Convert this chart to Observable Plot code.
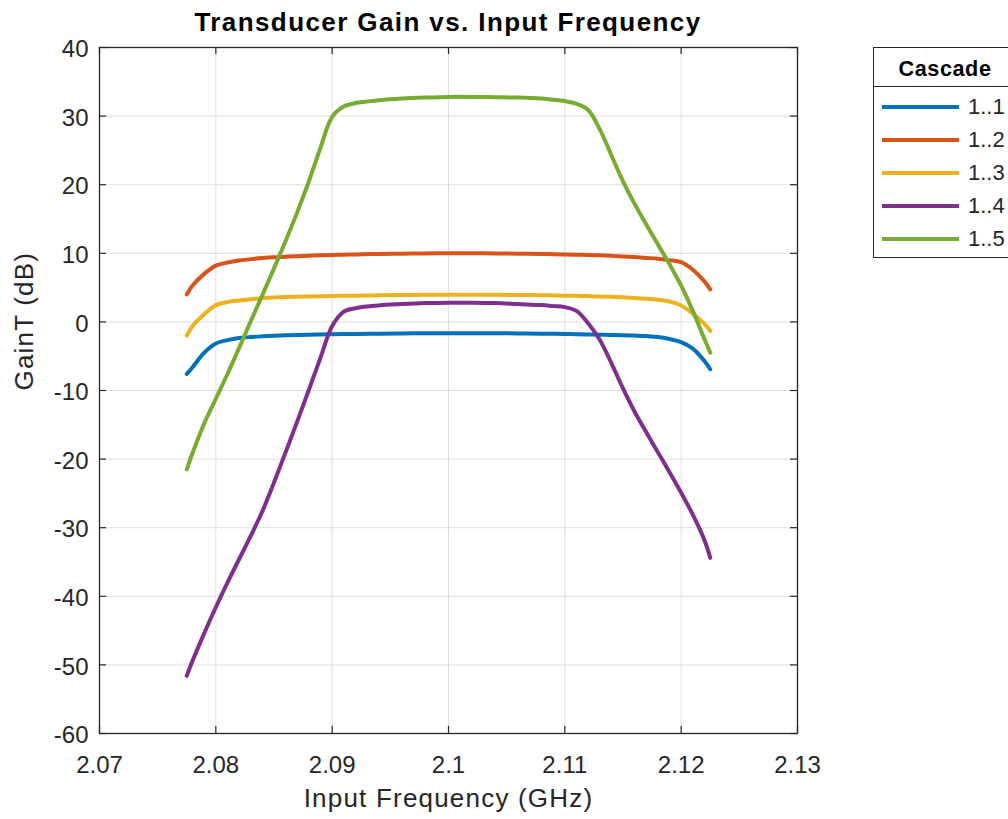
<!DOCTYPE html>
<html>
<head>
<meta charset="utf-8">
<script src="https://cdn.jsdelivr.net/npm/d3@7"></script>
<script src="https://cdn.jsdelivr.net/npm/@observablehq/plot@0.6"></script>
<style>
  html, body { margin: 0; padding: 0; background: #fff; overflow: hidden; }
  #wrap { position: relative; width: 1008px; height: 819px; font-family: "Liberation Sans", Arial, Helvetica, sans-serif; color: #262626; }
  #title { height: 40px; line-height: 44px; width: 698px; padding-left: 99px; text-align: center; font-weight: bold; font-size: 26px; letter-spacing: 1.4px; color: #000; white-space: nowrap; overflow: visible; }
  #legend { position: absolute; left: 873px; top: 47px; width: 142px; height: 209px; border: 1px solid #262626; background: #fff; box-sizing: content-box; }
  #legend .lt { height: 38px; line-height: 41px; text-align: center; font-weight: bold; font-size: 21.6px; border-bottom: 1px solid #262626; color: #000; letter-spacing: 0.6px; }
  #legend .rows { padding-top: 3px; }
  #legend .row { height: 33px; display: flex; align-items: center; }
  #legend .sw { margin-left: 8px; width: 77px; height: 4px; }
  #legend .lab { margin-left: 9px; font-size: 22px; color: #262626; }
</style>
</head>
<body>
<div id="wrap">
  <div id="title"></div>
  <div id="chart"></div>
  <div id="legend"></div>
</div>
<script>
// ---- data ----
const titleText = "Transducer Gain vs. Input Frequency";
const xLabel = "Input Frequency (GHz)";
const yLabel = "GainT (dB)";
const legendTitle = "Cascade";

const xTicks = [2.07, 2.08, 2.09, 2.10, 2.11, 2.12, 2.13];
const xTickLabels = ["2.07", "2.08", "2.09", "2.1", "2.11", "2.12", "2.13"];
const yTicks = [-60, -50, -40, -30, -20, -10, 0, 10, 20, 30, 40];
const yTickLabels = ["-60", "-50", "-40", "-30", "-20", "-10", "0", "10", "20", "30", "40"];

const freq = [2.0775, 2.078, 2.079, 2.080, 2.081, 2.082, 2.083, 2.084, 2.085, 2.086,
  2.087, 2.088, 2.089, 2.090, 2.091, 2.092, 2.094, 2.096, 2.098, 2.100,
  2.102, 2.104, 2.106, 2.108, 2.109, 2.110, 2.111, 2.112, 2.113, 2.114,
  2.115, 2.116, 2.117, 2.118, 2.119, 2.120, 2.121, 2.122, 2.1225];

const gain11 = [-7.6, -6.6, -4.5, -3.15, -2.65, -2.35, -2.2, -2.1, -2.02, -1.96,
  -1.91, -1.87, -1.83, -1.8, -1.77, -1.75, -1.71, -1.68, -1.66, -1.65,
  -1.65, -1.66, -1.68, -1.71, -1.73, -1.76, -1.79, -1.82, -1.86, -1.9,
  -1.95, -2.0, -2.07, -2.2, -2.5, -2.95, -3.9, -5.7, -6.9];

const gain12 = [4.0, 5.3, 7.0, 8.2, 8.65, 8.95, 9.15, 9.3, 9.42, 9.5,
  9.58, 9.65, 9.7, 9.75, 9.8, 9.84, 9.9, 9.95, 9.98, 10.0,
  10.0, 9.98, 9.95, 9.9, 9.87, 9.84, 9.8, 9.75, 9.7, 9.63,
  9.55, 9.45, 9.33, 9.2, 9.0, 8.7, 7.6, 5.9, 4.75];

const gain13 = [-2.0, -0.6, 1.1, 2.45, 2.9, 3.12, 3.3, 3.45, 3.55, 3.62,
  3.67, 3.71, 3.74, 3.77, 3.8, 3.83, 3.88, 3.92, 3.95, 3.97,
  3.97, 3.95, 3.92, 3.88, 3.86, 3.83, 3.8, 3.76, 3.71, 3.65,
  3.58, 3.5, 3.38, 3.22, 2.97, 2.4, 1.2, -0.3, -1.3];

const gain14 = [-51.6, -49.4, -45.4, -41.6, -38.0, -34.6, -31.2, -27.6, -23.4, -19.0,
  -14.5, -9.9, -5.2, -0.6, 1.5, 2.0, 2.4, 2.6, 2.75, 2.8,
  2.8, 2.75, 2.6, 2.45, 2.3, 2.15, 1.6, -0.2, -2.6, -6.0,
  -9.7, -13.1, -16.1, -19.0, -21.9, -24.9, -28.1, -31.8, -34.4];

const gain15 = [-21.5, -19.1, -14.8, -11.2, -7.6, -3.8, 0.1, 3.9, 7.8, 11.8,
  16.0, 20.5, 25.4, 29.9, 31.4, 31.9, 32.3, 32.55, 32.7, 32.8,
  32.8, 32.75, 32.7, 32.55, 32.4, 32.2, 31.8, 30.9, 28.1, 24.3,
  20.5, 17.2, 14.2, 11.3, 8.4, 5.3, 1.6, -2.5, -4.5];

const seriesNames = ["1..1", "1..2", "1..3", "1..4", "1..5"];
const seriesValues = [gain11, gain12, gain13, gain14, gain15];
const seriesColors = ["#0072BD", "#D95319", "#EDB120", "#7E2F8E", "#77AC30"];

// ---- build table ----
const data = seriesNames.flatMap((s, k) =>
  freq.map((f, i) => ({series: s, freq: f, gain: seriesValues[k][i]})));

// ---- layout ----
const W = 1008, H = 779;
const mT = 7, mB = 86, mL = 99, mR = 211;
const pW = W - mL - mR, pH = H - mT - mB;
const ink = "#262626";
const tick = 7;

document.getElementById("title").textContent = titleText;

const chart = Plot.plot({
  width: W, height: H,
  marginTop: mT, marginBottom: mB, marginLeft: mL, marginRight: mR,
  style: {fontFamily: '"Liberation Sans", Arial, Helvetica, sans-serif', fontSize: "24px", color: ink, background: "#fff", overflow: "visible"},
  x: {domain: [xTicks[0], xTicks[xTicks.length - 1]]},
  y: {domain: [yTicks[0], yTicks[yTicks.length - 1]]},
  color: {domain: seriesNames, range: seriesColors},
  marks: [
    Plot.gridX(xTicks, {stroke: ink, strokeOpacity: 0.15, strokeWidth: 1}),
    Plot.gridY(yTicks, {stroke: ink, strokeOpacity: 0.15, strokeWidth: 1}),
    Plot.line(data, {x: "freq", y: "gain", z: "series", stroke: "series", strokeWidth: 4, curve: "catmull-rom", strokeLinejoin: "round"}),
    Plot.frame({stroke: ink, strokeWidth: 1.3}),
    // inward tick marks on all four sides
    Plot.gridX(xTicks, {stroke: ink, strokeOpacity: 1, strokeWidth: 1.2, insetTop: pH - tick}),
    Plot.gridX(xTicks, {stroke: ink, strokeOpacity: 1, strokeWidth: 1.2, insetBottom: pH - tick}),
    Plot.gridY(yTicks, {stroke: ink, strokeOpacity: 1, strokeWidth: 1.2, insetRight: pW - tick}),
    Plot.gridY(yTicks, {stroke: ink, strokeOpacity: 1, strokeWidth: 1.2, insetLeft: pW - tick}),
    Plot.axisX(xTicks, {tickSize: 0, tickPadding: 22, tickFormat: (d, i) => xTickLabels[i], label: null, fontSize: 24, fill: ink}),
    Plot.axisY(yTicks, {tickSize: 0, tickPadding: 11, tickFormat: (d, i) => yTickLabels[i], label: null, fontSize: 24, fill: ink, dy: 2}),
    Plot.text([xLabel], {text: d => d, frameAnchor: "bottom", dy: 73, fontSize: 26, fill: ink}),
    Plot.text([yLabel], {text: d => d, frameAnchor: "left", dx: -75, rotate: -90, fontSize: 26, fill: ink})
  ]
});
chart.querySelectorAll("text").forEach(t => {
  if (t.textContent === xLabel || t.textContent === yLabel) t.setAttribute("letter-spacing", "1.2px");
});
document.getElementById("chart").appendChild(chart);

// ---- legend ----
const lg = document.getElementById("legend");
const lt = document.createElement("div");
lt.className = "lt";
lt.textContent = legendTitle;
lg.appendChild(lt);
const rows = document.createElement("div");
rows.className = "rows";
seriesNames.forEach((s, k) => {
  const r = document.createElement("div");
  r.className = "row";
  const sw = document.createElement("span");
  sw.className = "sw";
  sw.style.background = seriesColors[k];
  const lab = document.createElement("span");
  lab.className = "lab";
  lab.textContent = s;
  r.appendChild(sw);
  r.appendChild(lab);
  rows.appendChild(r);
});
lg.appendChild(rows);
</script>
</body>
</html>
